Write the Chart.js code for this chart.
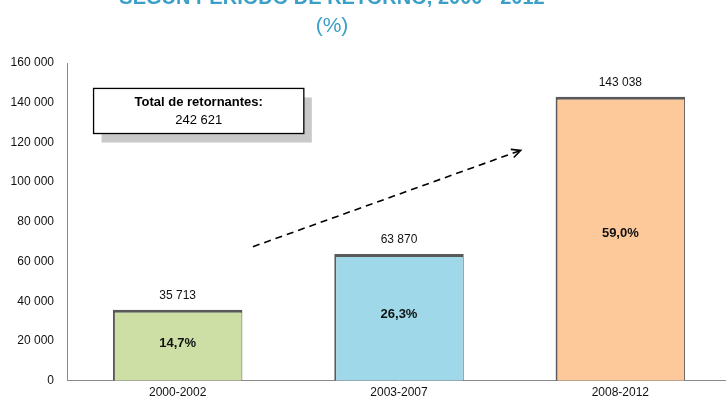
<!DOCTYPE html>
<html><head><meta charset="utf-8">
<script src="https://cdn.jsdelivr.net/npm/chart.js@4/dist/chart.umd.min.js"></script>
<style>
html,body{margin:0;padding:0;background:#fff;overflow:hidden;width:726px;height:401px;}
#wrap{position:absolute;left:0;top:0;width:731px;height:401px;}
</style></head><body>
<div id="wrap"><canvas id="c"></canvas></div>
<script>
// ---- data ----
const categories = ['2000-2002', '2003-2007', '2008-2012'];
const retornantes = [35713, 63870, 143038];
const percentLabels = ['14,7%', '26,3%', '59,0%'];
const yTickValues = [0, 20000, 40000, 60000, 80000, 100000, 120000, 140000, 160000];
const totalBoxLines = ['Total de retornantes:', '242 621'];
const titleLines = ['SEGÚN PERIODO DE RETORNO, 2000 - 2012', '(%)'];
// trend arrow in data space: [category index, value]
const arrowFrom = [0.34, 67500];
const arrowTo = [1.55, 116000];
// total box corners in data space
const boxFrom = [-0.38, 147200];
const boxTo = [0.57, 124500];

const fmt = n => String(n).replace(/\B(?=(\d{3})+(?!\d))/g, ' ');
const FONT = '"Liberation Sans", Arial, sans-serif';

const overlay = {
  id: 'overlay',
  afterDatasetsDraw(chart) {
    const ctx = chart.ctx;
    const xs = chart.scales.x, ys = chart.scales.y;
    const meta = chart.getDatasetMeta(0);
    ctx.save();
    // bar labels
    meta.data.forEach((bar, i) => {
      ctx.fillStyle = '#111';
      ctx.textAlign = 'center';
      ctx.textBaseline = 'middle';
      ctx.font = '12px ' + FONT;
      ctx.fillText(fmt(retornantes[i]), bar.x, bar.y - 14);
      ctx.font = 'bold 13px ' + FONT;
      const yMid = bar.base - (bar.base - bar.y) * 0.52;
      ctx.fillText(percentLabels[i], bar.x, yMid);
    });
    // dashed arrow
    const cx = v => xs.left + (v + 0.5) * (xs.right - xs.left) / categories.length;
    const x1 = cx(arrowFrom[0]), y1 = ys.getPixelForValue(arrowFrom[1]);
    const x2 = cx(arrowTo[0]), y2 = ys.getPixelForValue(arrowTo[1]);
    ctx.strokeStyle = '#000';
    ctx.lineWidth = 1.6;
    ctx.setLineDash([7, 5]);
    ctx.beginPath(); ctx.moveTo(x1, y1); ctx.lineTo(x2, y2); ctx.stroke();
    ctx.setLineDash([]);
    const ang = Math.atan2(y2 - y1, x2 - x1);
    ctx.beginPath();
    ctx.moveTo(x2 - 10 * Math.cos(ang - 0.45), y2 - 10 * Math.sin(ang - 0.45));
    ctx.lineTo(x2, y2);
    ctx.lineTo(x2 - 10 * Math.cos(ang + 0.45), y2 - 10 * Math.sin(ang + 0.45));
    ctx.stroke();
    // total box with shadow
    const bx1 = cx(boxFrom[0]), by1 = ys.getPixelForValue(boxFrom[1]);
    const bx2 = cx(boxTo[0]), by2 = ys.getPixelForValue(boxTo[1]);
    ctx.fillStyle = '#c9c9c9';
    ctx.fillRect(bx1 + 8, by1 + 9, bx2 - bx1, by2 - by1);
    ctx.fillStyle = '#fff';
    ctx.fillRect(bx1, by1, bx2 - bx1, by2 - by1);
    ctx.strokeStyle = '#000';
    ctx.lineWidth = 1.3;
    ctx.strokeRect(bx1, by1, bx2 - bx1, by2 - by1);
    ctx.fillStyle = '#000';
    ctx.textAlign = 'center';
    ctx.textBaseline = 'middle';
    const bcx = (bx1 + bx2) / 2;
    ctx.font = 'bold 13px ' + FONT;
    ctx.fillText(totalBoxLines[0], bcx, by1 + 14);
    ctx.font = '13px ' + FONT;
    ctx.fillText(totalBoxLines[1], bcx, by1 + 32);
    // title (partially cut off at top)
    ctx.fillStyle = '#3B9FC8';
    ctx.textBaseline = 'alphabetic';
    ctx.font = 'bold 20px ' + FONT;
    ctx.fillText(titleLines[0], 332, 4);
    ctx.font = '21px ' + FONT;
    ctx.fillText(titleLines[1], 332, 32);
    ctx.restore();
  }
};

new Chart(document.getElementById('c'), {
  type: 'bar',
  data: {
    labels: categories,
    datasets: [{
      data: retornantes,
      backgroundColor: ['#CEDFA6', '#9ED8E9', '#FDC99A'],
      borderColor: '#595959',
      borderWidth: {top: 3, left: 2, right: 1, bottom: 0},
      borderSkipped: false,
      categoryPercentage: 1,
      barPercentage: 0.585
    }]
  },
  options: {
    responsive: true,
    maintainAspectRatio: false,
    animation: false,
    layout: {padding: {top: 63, left: 0, right: 0, bottom: 0}},
    plugins: {legend: {display: false}, tooltip: {enabled: false}, title: {display: false}},
    scales: {
      x: {
        grid: {display: false, drawTicks: false},
        border: {display: true, color: '#8a8a8a', width: 1},
        ticks: {color: '#111', font: {family: FONT, size: 12}, padding: 5},
        afterFit: s => { s.height = 19; }
      },
      y: {
        min: 0, max: 160000,
        afterBuildTicks: s => { s.ticks = yTickValues.map(v => ({value: v})); },
        grid: {display: false, drawTicks: false},
        border: {display: true, color: '#8a8a8a', width: 1},
        ticks: {color: '#111', font: {family: FONT, size: 12}, padding: 13, callback: v => fmt(v)},
        afterFit: s => { s.width = 67; }
      }
    }
  },
  plugins: [overlay]
});
</script>
</body></html>
